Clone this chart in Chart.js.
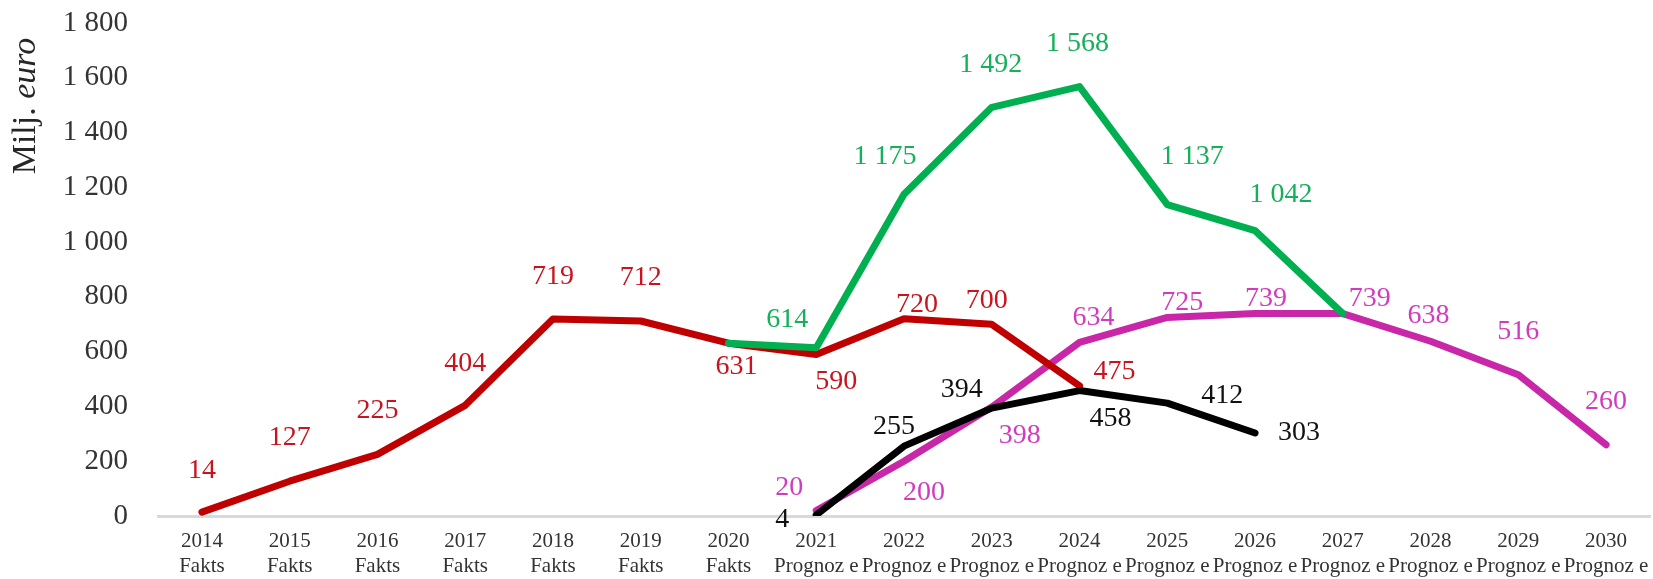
<!DOCTYPE html>
<html>
<head>
<meta charset="utf-8">
<script src="https://cdn.jsdelivr.net/npm/chart.js@4"></script>
<style>
  html, body { margin: 0; padding: 0; background: #fff; }
  .wrap { width: 1653px; height: 579px; position: relative; }
</style>
</head>
<body>
<div class="wrap"><canvas id="c" width="1653" height="579"></canvas></div>
<script>
// ── Data ──────────────────────────────────────────────────────────────────
const years  = ['2014','2015','2016','2017','2018','2019','2020','2021','2022','2023','2024','2025','2026','2027','2028','2029','2030']
const phases = ['Fakts','Fakts','Fakts','Fakts','Fakts','Fakts','Fakts','Prognoz e','Prognoz e','Prognoz e','Prognoz e','Prognoz e','Prognoz e','Prognoz e','Prognoz e','Prognoz e','Prognoz e']

const redValues     = [14, 127, 225, 404, 719, 712, 631, 590, 720, 700, 475, null, null, null, null, null, null]
const greenValues   = [null, null, null, null, null, null, 631, 614, 1175, 1492, 1568, 1137, 1042, 739, null, null, null]
const magentaValues = [null, null, null, null, null, null, null, 20, 200, 398, 634, 725, 739, 739, 638, 516, 260]
const blackValues   = [null, null, null, null, null, null, null, 4, 255, 394, 458, 412, 303, null, null, null, null]

const yTicks = [0, 200, 400, 600, 800, 1000, 1200, 1400, 1600, 1800]

// ── Label placement (px offsets from the point, null = no label) ─────────
const redOffsets     = [[0,-42],[0,-44],[0,-44],[0,-42],[0,-42],[0,-43],[8,23],[20,27],[13,-14],[-5,-24],[35,-14]]
const greenOffsets   = [null,null,null,null,null,null,null,[-29,-28],[-19,-38],[-1,-43],[-2,-43],[25,-48],[26,-36],null]
const magentaOffsets = [null,null,null,null,null,null,null,[-27,-23],[20,31],[28,29],[14,-25],[15,-15],[11,-15],[27,-15],[-2,-26],[0,-43],[0,-43]]
const blackOffsets   = [null,null,null,null,null,null,null,[-34,5],[-10,-20],[-30,-18],[31,28],[55,-8],[44,0]]

const SERIF = "'Liberation Serif', 'Times New Roman', serif"
const fmt = v => String(v).replace(/\B(?=(\d{3})+(?!\d))/g, ' ')

// ── Plugins ───────────────────────────────────────────────────────────────
const valueLabels = {
  id: 'valueLabels',
  afterDatasetsDraw(chart) {
    const ctx = chart.ctx
    ctx.save()
    ctx.font = '28px ' + SERIF
    ctx.textAlign = 'center'
    ctx.textBaseline = 'middle'
    chart.data.datasets.forEach((ds, di) => {
      const meta = chart.getDatasetMeta(di)
      ds.data.forEach((v, i) => {
        const off = ds.labelOffsets[i]
        if (v == null || !off) return
        const pt = meta.data[i]
        ctx.fillStyle = ds.labelColor
        ctx.fillText(fmt(v), pt.x + off[0], pt.y + off[1])
      })
    })
    ctx.restore()
  }
}

const axisTitle = {
  id: 'axisTitle',
  afterDraw(chart) {
    const ctx = chart.ctx
    const a = 'Milj. ', b = 'euro'
    ctx.save()
    ctx.translate(26, 106)
    ctx.rotate(-Math.PI / 2)
    ctx.textBaseline = 'middle'
    ctx.fillStyle = '#262626'
    ctx.font = '34px ' + SERIF
    const wa = ctx.measureText(a).width
    ctx.font = 'italic 34px ' + SERIF
    const wb = ctx.measureText(b).width
    const x0 = -(wa + wb) / 2
    ctx.font = '34px ' + SERIF
    ctx.textAlign = 'left'
    ctx.fillText(a, x0, 0)
    ctx.font = 'italic 34px ' + SERIF
    ctx.fillText(b, x0 + wa, 0)
    ctx.restore()
  }
}

// ── Chart ─────────────────────────────────────────────────────────────────
const line = (data, color, labelColor, offsets, order) => ({
  data,
  borderColor: color,
  backgroundColor: color,
  borderWidth: 7,
  borderCapStyle: 'round',
  borderJoinStyle: 'round',
  pointRadius: 0,
  tension: 0,
  spanGaps: false,
  order,
  labelColor,
  labelOffsets: offsets
})

new Chart(document.getElementById('c'), {
  type: 'line',
  data: {
    labels: years.map((y, i) => [y, phases[i]]),
    datasets: [
      line(redValues, '#C00000', '#C8141E', redOffsets, 2),
      line(greenValues, '#00B050', '#14B05A', greenOffsets, 0),
      line(magentaValues, '#C828A8', '#D03CBE', magentaOffsets, 3),
      line(blackValues, '#000000', '#111111', blackOffsets, 1)
    ]
  },
  options: {
    responsive: false,
    animation: false,
    layout: { padding: { top: 23, right: 3, bottom: 0, left: 0 } },
    plugins: { legend: { display: false }, tooltip: { enabled: false } },
    scales: {
      x: {
        offset: true,
        grid: { display: false, drawTicks: false },
        border: { display: true, color: '#D9D9D9', width: 3 },
        ticks: {
          autoSkip: false, maxRotation: 0, minRotation: 0, padding: 13,
          color: '#333', font: { family: SERIF, size: 21, lineHeight: 1.2 }
        },
        afterFit(s) { s.height = 63; s.paddingLeft = 0; s.paddingRight = 0 }
      },
      y: {
        min: 0, max: 1800,
        afterBuildTicks(s) { s.ticks = yTicks.map(v => ({ value: v })) },
        grid: { display: false, drawTicks: false },
        border: { display: false },
        ticks: {
          padding: 30, color: '#333',
          font: { family: SERIF, size: 29 },
          callback: v => fmt(v)
        },
        afterFit(s) { s.width = 158; s.paddingTop = 0; s.paddingBottom = 0 }
      }
    }
  },
  plugins: [valueLabels, axisTitle]
})
</script>
</body>
</html>
